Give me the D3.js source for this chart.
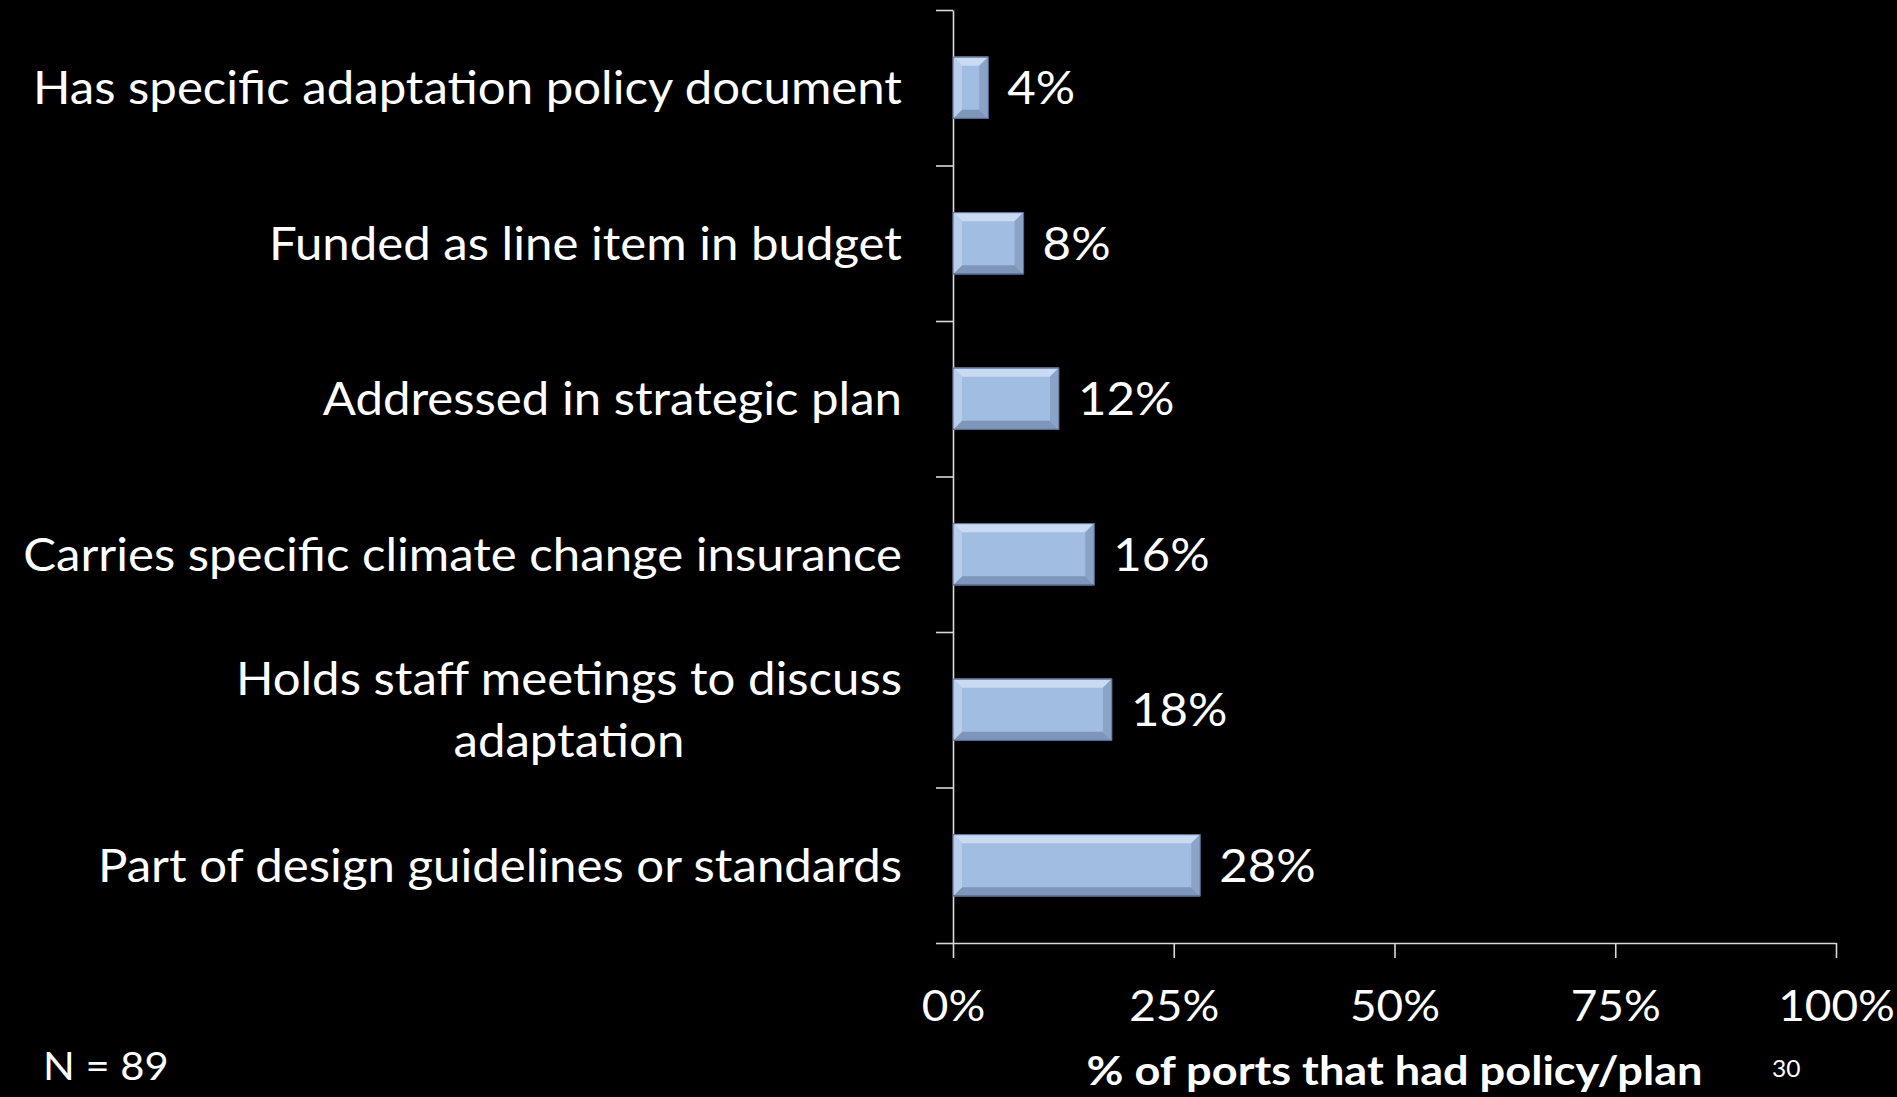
<!DOCTYPE html>
<html><head><meta charset="utf-8">
<script src="https://cdn.jsdelivr.net/npm/d3@7"></script>
<style>html,body{margin:0;padding:0;background:#000;overflow:hidden}</style>
</head><body>
<svg id="c" width="1897" height="1097"></svg>
<script>
const categories = [
  "Has specific adaptation policy document",
  "Funded as line item in budget",
  "Addressed in strategic plan",
  "Carries specific climate change insurance",
  "Holds staff meetings to discuss\nadaptation",
  "Part of design guidelines or standards"
];
const values = [4, 8, 12, 16, 18, 28];
const tickValues = [0, 25, 50, 75, 100];
const axisTitle = "% of ports that had policy/plan";
const sampleNote = "N = 89";
const pageNumber = "30";

(function () {
const W = 1897, H = 1097;
const svg = d3.select("#c");
svg.append("rect").attr("width", W).attr("height", H).attr("fill", "#000");

const mLeft = 953, mRight = 1836, mTop = 10, mBottom = 943;
const x = d3.scaleLinear().domain([0, 100]).range([mLeft, mRight]);
const y = d3.scaleBand().domain(categories).range([mTop, mBottom]).padding(0);
const yIdx = d3.scaleLinear().domain([0, categories.length]).range([mTop, mBottom]);
const FONT = "Lato, 'Open Sans', sans-serif";
const AX = "#d9d9d9";

// horizontal compression to mimic narrow Calibri metrics
const probe = svg.append("text").attr("font-family", FONT).attr("font-size", 46).text(categories[0]);
const k = 869 / probe.node().getComputedTextLength();
probe.remove();
function squeeze(sel, f) {
  sel.each(function () {
    const w = this.getComputedTextLength();
    d3.select(this).attr("textLength", w * f).attr("lengthAdjust", "spacingAndGlyphs");
  });
}

// Y axis
const yAxis = svg.append("g").attr("transform", `translate(${mLeft},0)`)
  .call(d3.axisLeft(yIdx).tickValues(d3.range(categories.length + 1)).tickSize(17).tickSizeOuter(0).tickFormat(""));
yAxis.selectAll("path,line").attr("stroke", AX).attr("stroke-width", 1.6);

// X axis
const xAxis = svg.append("g").attr("transform", `translate(0,${mBottom})`)
  .call(d3.axisBottom(x).tickValues(tickValues).tickSize(15).tickSizeOuter(0).tickFormat(d => d + "%"));
xAxis.selectAll("path,line").attr("stroke", AX).attr("stroke-width", 1.6);
xAxis.selectAll("text").attr("y", 78).attr("dy", 0).attr("fill", "#fff")
  .attr("font-family", FONT).attr("font-size", 43);
squeeze(xAxis.selectAll("text"), k);

// Bars
const bh = y.bandwidth() * 0.4;
const bev = 9;
const bars = svg.append("g").selectAll("g").data(categories).join("g")
  .attr("transform", d => `translate(0,${y(d) + (y.bandwidth() - bh) / 2})`);
bars.each(function (d, i) {
  const g = d3.select(this);
  const x0 = x(0), x1 = x(values[i]), h = bh;
  const b = Math.min(bev, (x1 - x0) / 2);
  const poly = pts => pts.map(p => p.join(",")).join(" ");
  g.append("rect").attr("x", x0).attr("y", 0).attr("width", x1 - x0).attr("height", h).attr("fill", "#A2BDE2");
  g.append("polygon").attr("points", poly([[x0, 0], [x1, 0], [x1 - b, b], [x0 + b, b]])).attr("fill", "#C9DBF2");
  g.append("polygon").attr("points", poly([[x0, h], [x1, h], [x1 - b, h - b], [x0 + b, h - b]])).attr("fill", "#7D96BA");
  g.append("polygon").attr("points", poly([[x0, 0], [x0 + b, b], [x0 + b, h - b], [x0, h]])).attr("fill", "#B6CDEB");
  g.append("polygon").attr("points", poly([[x1, 0], [x1 - b, b], [x1 - b, h - b], [x1, h]])).attr("fill", "#8AA3C6");
  g.append("rect").attr("x", x0).attr("y", 0.5).attr("width", x1 - x0).attr("height", h - 1)
    .attr("fill", "none").attr("stroke", "#4E668A").attr("stroke-width", 1);
});

// Value labels
const vl = svg.append("g").selectAll("text").data(categories).join("text")
  .attr("x", (d, i) => x(values[i]) + 19)
  .attr("y", d => y(d) + y.bandwidth() / 2 + 16.5)
  .attr("fill", "#fff").attr("font-family", FONT).attr("font-size", 46)
  .text((d, i) => values[i] + "%");
squeeze(vl, k);

// Category labels
const labelRight = 902;
const lineGap = 62;
const lg = svg.append("g");
categories.forEach(c => {
  const lines = c.split("\n");
  const cy = y(c) + y.bandwidth() / 2 + 16.5;
  const y0 = cy - (lines.length - 1) * lineGap / 2;
  const ts = lines.map((ln, j) => lg.append("text")
    .attr("y", y0 + j * lineGap).attr("fill", "#fff")
    .attr("font-family", FONT).attr("font-size", 46).text(ln));
  let maxW = 0;
  ts.forEach(t => { maxW = Math.max(maxW, t.node().getComputedTextLength() * k); });
  ts.forEach(t => {
    t.attr("text-anchor", "middle").attr("x", labelRight - maxW / 2);
    squeeze(t, k);
  });
});

// Axis title
const tt = svg.append("text").attr("x", (mLeft + mRight) / 2).attr("y", 1085)
  .attr("text-anchor", "middle").attr("fill", "#fff").attr("font-family", FONT)
  .attr("font-weight", "bold").attr("font-size", 41).text(axisTitle);
tt.attr("textLength", 616).attr("lengthAdjust", "spacingAndGlyphs");

// N note
const nt = svg.append("text").attr("x", 43).attr("y", 1080).attr("fill", "#fff")
  .attr("font-family", FONT).attr("font-size", 39).text(sampleNote);
squeeze(nt, k);

// page number
const pn = svg.append("text").attr("x", 1772).attr("y", 1077).attr("fill", "#fff")
  .attr("font-family", FONT).attr("font-size", 23).text(pageNumber);
squeeze(pn, k);
})();
</script>
</body></html>
